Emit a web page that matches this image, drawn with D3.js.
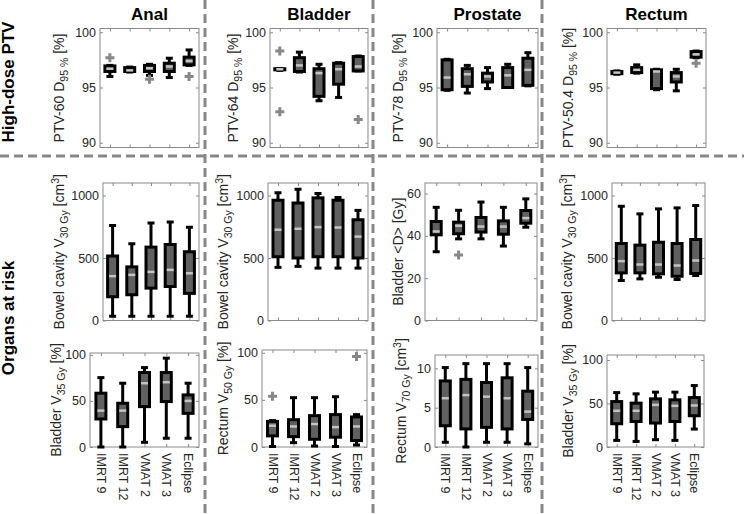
<!DOCTYPE html>
<html><head><meta charset="utf-8">
<script src="https://cdn.jsdelivr.net/npm/d3@7"></script>
<style>
body{margin:0;background:#fff;}
svg{display:block;font-family:"Liberation Sans",Arial,sans-serif;}
</style></head><body>
<svg id="c" width="744" height="514"></svg>
<script>
// ---------------- DATA ----------------
const methods = ["IMRT 9", "IMRT 12", "VMAT 2", "VMAT 3", "Eclipse"];
const columnTitles = ["Anal", "Bladder", "Prostate", "Rectum"];
const rowTitles = ["High-dose PTV", "Organs at risk"];

// each box: [lower whisker, Q1, median, Q3, upper whisker]
const analPTV = [[96.0,96.45,96.7,96.95,97.0],[96.4,96.45,96.55,96.8,96.85],[96.1,96.45,96.75,97.0,97.1],[95.9,96.45,96.9,97.2,97.65],[97.0,97.05,97.4,97.75,98.4]];
const analPTVOut = [[97.7],[],[95.75],[],[96.0]];
const bladderPTV = [[96.55,96.6,96.65,96.7,96.7],[96.4,96.45,97.0,97.7,98.2],[93.8,94.2,96.3,96.7,97.1],[94.1,95.3,96.65,97.2,97.25],[96.5,96.5,96.9,97.8,97.85]];
const bladderPTVOut = [[98.3,92.8],[],[],[],[92.1]];
const prostatePTV = [[94.75,94.8,95.9,97.5,97.55],[94.5,95.1,96.2,96.7,97.0],[94.9,95.5,96.0,96.3,96.8],[95.0,95.0,96.1,96.8,97.1],[95.15,95.2,96.6,97.65,98.15]];
const prostatePTVOut = [[],[],[],[],[]];
const rectumPTV = [[96.2,96.25,96.35,96.45,96.5],[96.3,96.35,96.6,96.8,97.05],[94.8,94.9,96.45,96.6,96.65],[94.7,95.5,96.0,96.35,96.65],[97.7,97.75,98.0,98.25,98.3]];
const rectumPTVOut = [[],[],[],[],[97.2]];

const analBowelV30 = [[34,190,355,516,760],[34,206,365,429,614],[34,259,389,587,780],[34,272,405,608,788],[34,217,378,550,746]];
const bladderBowelV30 = [[425,510,726,962,1022],[433,500,734,940,1050],[419,510,747,981,1016],[419,510,744,962,984],[419,500,671,806,881]];
const prostateBladderMean = [[32.5,40.5,42.1,46.8,53.5],[38.6,41.0,44.8,46.5,52.1],[38.6,41.8,44.4,48.7,56.0],[35.2,40.8,44.4,47.1,53.5],[44.1,46.0,48.4,52.0,57.5]];
const prostateBladderMeanOut = [[],[31],[],[],[]];
const rectumBowelV30 = [[320,381,475,616,914],[333,381,448,603,853],[346,373,448,626,893],[328,354,440,616,901],[360,376,480,648,920]];

const analBladderV35 = [[0,30.4,39.5,58.4,75.3],[0,22.1,39.5,47.5,69.2],[5.1,43.8,69.2,80.8,86.2],[9.5,49.3,70.3,80.8,96.4],[9.5,36.5,50,56.5,69.2]];
const bladderRectumV50 = [[0.5,11.8,22.6,27.2,28],[4.6,11,21.8,29,52.4],[1,8.2,24.4,33.3,52.4],[0.5,10.4,21.1,34.4,53.4],[2.1,6.8,21.8,31.9,34.4]];
const bladderRectumV50Out = [[54],[],[],[],[96]];
const prostateRectumV70 = [[0.6,2.7,6.2,8.4,10.1],[0,2.3,6.6,8.6,10.6],[0.6,2.5,6.4,8.2,10.6],[0.6,2.3,6.2,8.8,10.6],[0.4,3.5,4.5,7.1,10.1]];
const rectumBladderV35 = [[7.6,26.7,41.6,52.2,62.5],[6.4,29.3,41.6,50.4,61.1],[8.4,27.5,48.4,55.3,63],[7.6,29.3,47.3,54.2,63],[20.6,35.9,47.7,56.8,70.6]];

const ptvTicks = [90, 95, 100];
const volTicks = [0, 500, 1000];
const doseTicks = [0, 20, 40, 60];
const pctTicks = [0, 50, 100];
const ccTicks = [0, 5, 10];

// y-axis label pieces: [text, kind] kind: n normal, b subscript, p superscript
const lblPTV60 = [["PTV-60 D","n"],["95 %","b"],[" [%]","n"]];
const lblPTV64 = [["PTV-64 D","n"],["95 %","b"],[" [%]","n"]];
const lblPTV78 = [["PTV-78 D","n"],["95 %","b"],[" [%]","n"]];
const lblPTV504 = [["PTV-50.4 D","n"],["95 %","b"],[" [%]","n"]];
const lblBowel = [["Bowel cavity V","n"],["30 Gy","b"],[" [cm","n"],["3","p"],["]","n"]];
const lblBladderD = [["Bladder <D> [Gy]","n"]];
const lblBladderV35 = [["Bladder V","n"],["35 Gy","b"],[" [%]","n"]];
const lblRectumV50 = [["Rectum V","n"],["50 Gy","b"],[" [%]","n"]];
const lblRectumV70 = [["Rectum V","n"],["70 Gy","b"],[" [cm","n"],["3","p"],["]","n"]];

// ---------------- LAYOUT ----------------
const panels = [
  {row:0,col:0,data:analPTV,out:analPTVOut,ticks:ptvTicks,dom:[89.57,100.34],frame:[100,199,28.5,147.5],label:lblPTV60,lx:64},
  {row:0,col:1,data:bladderPTV,out:bladderPTVOut,ticks:ptvTicks,dom:[89.57,100.34],frame:[270,368,28.5,147.5],label:lblPTV64,lx:238},
  {row:0,col:2,data:prostatePTV,out:prostatePTVOut,ticks:ptvTicks,dom:[89.57,100.34],frame:[437,538,28.5,147.5],label:lblPTV78,lx:403},
  {row:0,col:3,data:rectumPTV,out:rectumPTVOut,ticks:ptvTicks,dom:[89.57,100.34],frame:[607,706,28.5,147.5],label:lblPTV504,lx:573},
  {row:1,col:0,data:analBowelV30,out:null,ticks:volTicks,dom:[0,1100],frame:[103,199,183,320.5],label:lblBowel,lx:64},
  {row:1,col:1,data:bladderBowelV30,out:null,ticks:volTicks,dom:[0,1100],frame:[268,368,183,320.5],label:lblBowel,lx:228},
  {row:1,col:2,data:prostateBladderMean,out:prostateBladderMeanOut,ticks:doseTicks,dom:[0,65],frame:[425,537,183,320.5],label:lblBladderD,lx:403},
  {row:1,col:3,data:rectumBowelV30,out:null,ticks:volTicks,dom:[0,1100],frame:[612,705,183,320.5],label:lblBowel,lx:572},
  {row:2,col:0,data:analBladderV35,out:null,ticks:pctTicks,dom:[0,102],frame:[90,199,353,447],label:lblBladderV35,lx:61},
  {row:2,col:1,data:bladderRectumV50,out:bladderRectumV50Out,ticks:pctTicks,dom:[0,103],frame:[262,367,350,447],label:lblRectumV50,lx:228},
  {row:2,col:2,data:prostateRectumV70,out:null,ticks:ccTicks,dom:[0,11.7],frame:[435,538,355,447],label:lblRectumV70,lx:406},
  {row:2,col:3,data:rectumBladderV35,out:null,ticks:pctTicks,dom:[0,105.7],frame:[607,704,355,447],label:lblBladderV35,lx:573}
];

const svg = d3.select("#c");
const AX = "#8a8a8a", TXT = "#262626";

// separators
const sep = svg.append("g").attr("stroke","#878787").attr("stroke-width",3).attr("stroke-dasharray","9,5");
[205, 373, 542].forEach(x => sep.append("line").attr("x1",x).attr("x2",x).attr("y1",0).attr("y2",514));
sep.append("line").attr("x1",0).attr("x2",744).attr("y1",156).attr("y2",156);

function drawLabel(g, parts, x, y) {
  const t = g.append("text").attr("transform",`translate(${x},${y}) rotate(-90)`)
    .attr("text-anchor","middle").attr("fill",TXT).style("font-size","14px");
  let shift = 0;
  parts.forEach(([s,k]) => {
    const target = k === "b" ? 4 : k === "p" ? -5.5 : 0;
    t.append("tspan").attr("dy", target - shift).text(s)
      .style("font-size", k === "n" ? "14px" : "10.5px");
    shift = target;
  });
}

panels.forEach(p => {
  const [x0,x1,y0,y1] = p.frame;
  const g = svg.append("g");
  const x = d3.scalePoint().domain(methods).range([x0,x1]).padding(0.5);
  const y = d3.scaleLinear().domain(p.dom).range([y1,y0]);

  // axes
  const yl = g.append("g").attr("transform",`translate(${x0},0)`)
    .call(d3.axisLeft(y).tickValues(p.ticks).tickSize(-3).tickPadding(4).tickFormat(d3.format("d")));
  const yr = g.append("g").attr("transform",`translate(${x1},0)`)
    .call(d3.axisRight(y).tickValues(p.ticks).tickSize(-3).tickFormat(""));
  const xt = g.append("g").attr("transform",`translate(0,${y0})`)
    .call(d3.axisTop(x).tickSize(-3).tickFormat(""));
  const xb = g.append("g").attr("transform",`translate(0,${y1})`)
    .call(d3.axisBottom(x).tickSize(-3).tickFormat(p.row === 2 ? null : ""));
  [yl,yr,xt,xb].forEach(a => {
    a.select(".domain").remove();
    a.selectAll(".tick line").attr("stroke",AX);
    a.selectAll("text").attr("fill",TXT).style("font-size","12.5px").style("font-family","'Liberation Sans',Arial,sans-serif");
  });
  if (p.row === 2) {
    xb.selectAll("text").attr("transform","rotate(90)").attr("text-anchor","start")
      .attr("x",6).attr("y",0).attr("dy","0.35em");
  }
  g.append("rect").attr("x",x0).attr("y",y0).attr("width",x1-x0).attr("height",y1-y0)
    .attr("fill","none").attr("stroke",AX).attr("stroke-width",1);

  drawLabel(g, p.label, p.lx, (y0+y1)/2);

  // boxes
  const bw = 10, cw = 7;
  methods.forEach((m,i) => {
    const [lo,q1,md,q3,hi] = p.data[i];
    const cx = x(m);
    const bg = g.append("g");
    bg.append("line").attr("x1",cx).attr("x2",cx).attr("y1",y(hi)).attr("y2",y(lo))
      .attr("stroke","#000").attr("stroke-width",3);
    [lo,hi].forEach(v => bg.append("line").attr("x1",cx-cw/2).attr("x2",cx+cw/2)
      .attr("y1",y(v)).attr("y2",y(v)).attr("stroke","#000").attr("stroke-width",3));
    bg.append("rect").attr("x",cx-bw/2).attr("width",bw).attr("y",y(q3))
      .attr("height",Math.max(y(q1)-y(q3),0.5)).attr("fill","#606060")
      .attr("stroke","#000").attr("stroke-width",3);
    bg.append("line").attr("x1",cx-bw/2+1.5).attr("x2",cx+bw/2-1.5)
      .attr("y1",y(md)).attr("y2",y(md)).attr("stroke","#c4c4c4").attr("stroke-width",2.5);
    if (p.out) p.out[i].forEach(v => bg.append("path")
      .attr("d",`M${cx-4.5},${y(v)}H${cx+4.5}M${cx},${y(v)-4.5}V${y(v)+4.5}`)
      .attr("stroke","#888").attr("stroke-width",3).attr("fill","none"));
  });

  if (p.row === 0) {
    svg.append("text").attr("x",(x0+x1)/2).attr("y",20).attr("text-anchor","middle")
      .style("font-size","17px").style("font-weight","bold").attr("fill","#000").text(columnTitles[p.col]);
  }
});

// row titles
svg.append("text").attr("transform","translate(14,82) rotate(-90)").attr("text-anchor","middle")
  .style("font-size","17px").style("font-weight","bold").text(rowTitles[0]);
svg.append("text").attr("transform","translate(14,318) rotate(-90)").attr("text-anchor","middle")
  .style("font-size","17px").style("font-weight","bold").text(rowTitles[1]);
</script>
</body></html>
